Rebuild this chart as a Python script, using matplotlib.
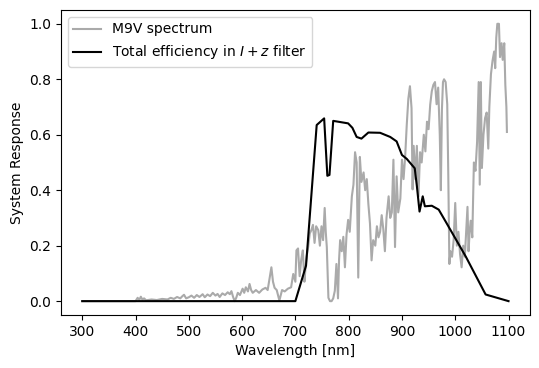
import matplotlib
matplotlib.use("Agg")
import matplotlib.pyplot as plt

# Total efficiency in I+z filter
eff_wl = [300, 700, 720, 740, 754, 760, 764, 771, 799, 807, 815, 824, 837, 859, 878,
          890, 900, 909, 924, 928, 933, 939, 943, 956, 969, 982, 1020, 1057, 1100]
eff_val = [0.0, 0.0, 0.128, 0.635, 0.659, 0.452, 0.455, 0.650, 0.641, 0.625, 0.592, 0.586,
           0.608, 0.607, 0.592, 0.576, 0.527, 0.513, 0.479, 0.415, 0.323, 0.378, 0.342,
           0.344, 0.330, 0.287, 0.160, 0.024, 0.0]

# M9V spectrum (normalised)
spec_wl = [300, 400, 404, 407, 410, 413, 416, 420, 430, 440, 450, 460, 466, 472, 478, 484,
           488, 491, 495, 500, 505, 510, 515, 520, 526, 530, 535, 540, 545, 550, 554, 558,
           563, 568, 573, 577, 580, 583, 586, 589, 592, 596, 601, 604, 607, 611, 614, 617,
           620, 626, 632, 638, 644, 648, 651, 655, 658, 661, 665, 670, 675, 680, 686, 692,
           696, 700, 702, 705, 708, 711, 714, 717, 719, 721, 724, 727, 730, 733, 736, 739,
           743, 746, 749, 752, 755, 757, 759, 762, 765, 768, 771, 774, 777, 780, 782, 784,
           787, 790, 793, 796, 799, 802, 806, 809, 812, 815, 818, 821, 824, 828, 831, 834,
           837, 840, 843, 846, 850, 853, 856, 859, 862, 865, 868, 871, 875, 878, 881, 884,
           887, 890, 893, 897, 900, 903, 906, 909, 912, 915, 918, 920, 922, 925, 928, 931,
           934, 937, 941, 944, 947, 950, 953, 956, 959, 962, 965, 968, 971, 973, 975, 977,
           979, 982, 985, 987, 989, 991, 994, 997, 1000, 1003, 1006, 1009, 1012, 1015, 1018,
           1021, 1023, 1025, 1027, 1029, 1032, 1035, 1038, 1041, 1044, 1046, 1048, 1050,
           1053, 1056, 1059, 1062, 1064, 1067, 1070, 1073, 1075, 1077, 1079, 1082, 1084,
           1087, 1089, 1092, 1094, 1096, 1097]
spec_val = [0.0, 0.0, 0.012, 0.004, 0.016, 0.005, 0.010, 0.003, 0.006, 0.004, 0.008, 0.006,
            0.012, 0.008, 0.015, 0.010, 0.018, 0.023, 0.010, 0.014, 0.020, 0.012, 0.022,
            0.015, 0.025, 0.014, 0.024, 0.018, 0.030, 0.020, 0.026, 0.015, 0.028, 0.022,
            0.032, 0.025, 0.036, 0.016, 0.000, 0.012, 0.030, 0.022, 0.045, 0.030, 0.050,
            0.035, 0.062, 0.040, 0.030, 0.040, 0.030, 0.042, 0.048, 0.040, 0.075, 0.122,
            0.070, 0.048, 0.040, 0.002, 0.040, 0.035, 0.045, 0.050, 0.098, 0.070, 0.183,
            0.190, 0.090, 0.150, 0.183, 0.070, 0.120, 0.160, 0.195, 0.244, 0.256, 0.275,
            0.210, 0.270, 0.256, 0.200, 0.270, 0.220, 0.336, 0.250, 0.195, 0.012, 0.000,
            0.000, 0.010, 0.037, 0.134, 0.010, 0.150, 0.220, 0.180, 0.232, 0.122, 0.240,
            0.293, 0.250, 0.378, 0.420, 0.537, 0.500, 0.085, 0.520, 0.430, 0.464, 0.400,
            0.440, 0.350, 0.280, 0.147, 0.220, 0.200, 0.270, 0.230, 0.250, 0.310, 0.260,
            0.180, 0.300, 0.378, 0.300, 0.320, 0.510, 0.195, 0.450, 0.320, 0.370, 0.510,
            0.440, 0.520, 0.635, 0.730, 0.775, 0.696, 0.403, 0.560, 0.440, 0.560, 0.378,
            0.537, 0.500, 0.600, 0.540, 0.647, 0.620, 0.708, 0.757, 0.780, 0.790, 0.710,
            0.770, 0.600, 0.400, 0.690, 0.790, 0.800, 0.790, 0.710, 0.450, 0.134, 0.180,
            0.160, 0.220, 0.354, 0.200, 0.250, 0.170, 0.122, 0.200, 0.160, 0.270, 0.340,
            0.180, 0.250, 0.290, 0.230, 0.500, 0.470, 0.574, 0.790, 0.420, 0.790, 0.480,
            0.600, 0.660, 0.680, 0.550, 0.700, 0.818, 0.867, 0.900, 0.840, 0.950, 1.000,
            1.000, 0.880, 0.930, 0.870, 0.930, 0.780, 0.700, 0.610]

fig = plt.figure(figsize=(5.39, 3.68), dpi=100)
ax = fig.add_axes([0.113, 0.144, 0.870, 0.829])
ax.plot(spec_wl, spec_val, color="#aaaaaa", lw=1.5, label="M9V spectrum")
ax.plot(eff_wl, eff_val, color="black", lw=1.5, label="Total efficiency in $I+z$ filter")
ax.set_xlabel("Wavelength [nm]")
ax.set_ylabel("System Response")
ax.set_xticks([300, 400, 500, 600, 700, 800, 900, 1000, 1100])
ax.set_yticks([0.0, 0.2, 0.4, 0.6, 0.8, 1.0])
ax.set_xlim(260, 1140)
ax.set_ylim(-0.05, 1.05)
ax.legend(loc="upper left")
fig.savefig("out.png", dpi=100)
